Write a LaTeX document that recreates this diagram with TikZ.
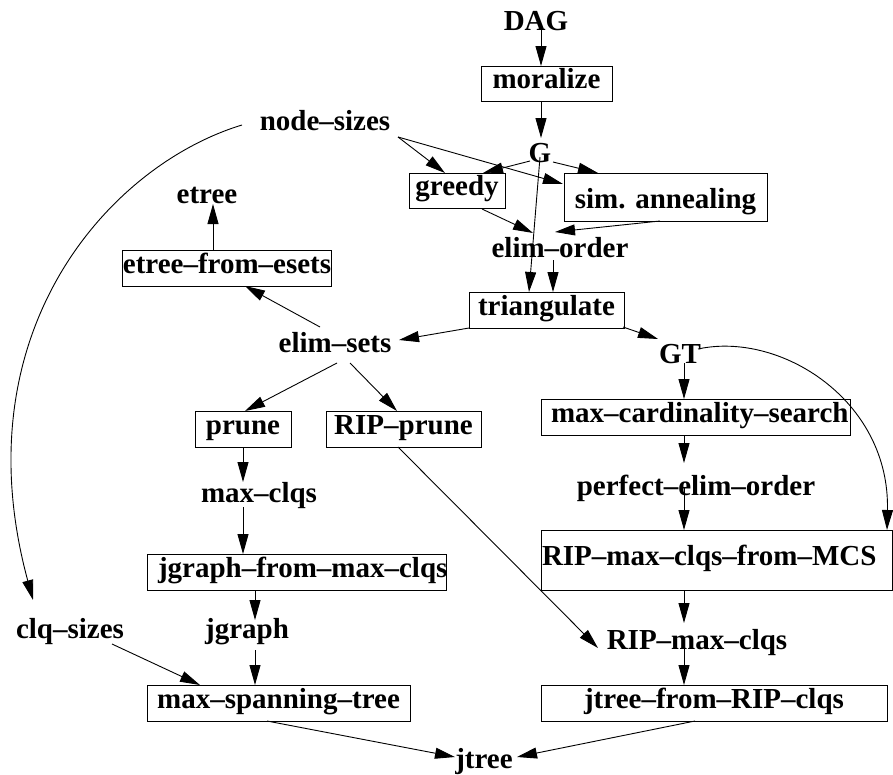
\documentclass[tikz,border=0pt]{standalone}
\usepackage{fontspec}
\setmainfont{Liberation Serif}
\usetikzlibrary{arrows.meta,calc}
\begin{document}
\begin{tikzpicture}[x=1pt,y=-1pt,
  font=\fontsize{29}{33}\selectfont\bfseries,
  lbl/.style={inner sep=0pt, text height=17pt, text depth=7pt},
  box/.style={draw, line width=1pt, inner sep=0pt, text height=17pt, text depth=7pt},
  arr/.style={line width=0.9pt, -{Triangle[length=20pt,width=11pt]}}]
\useasboundingbox (0,0) rectangle (893,774);
% labels
\node[lbl] (DAG) at (536,25) {DAG};
\node[lbl] (nodesizes) at (325,125) {node--sizes};
\node[lbl] (G) at (540,157) {G};
\node[lbl] (etree) at (207,198) {etree};
\node[lbl] (elimorder) at (560,252) {elim--order};
\node[lbl] (elimsets) at (335,347) {elim--sets};
\node[lbl] (GT) at (680,358) {GT};
\node[lbl] (maxclqs) at (259,497) {max--clqs};
\node[lbl] (peo) at (696,490) {perfect--elim--order};
\node[lbl] (clqsizes) at (70,633) {clq--sizes};
\node[lbl] (jgraph) at (247,633) {jgraph};
\node[lbl] (ripmaxclqs) at (697,644) {RIP--max--clqs};
\node[lbl] (jtree) at (484,763) {jtree};
% boxes
\node[box, minimum width=131pt, minimum height=35pt] (moralize) at (546.5,83.5) {moralize};
\node[box, minimum width=96pt, minimum height=35pt] (greedy) at (457,190.5) {greedy};
\node[box, minimum width=203pt, minimum height=48pt, text height=29pt] (simann) at (665.5,197) {sim. annealing};
\node[box, minimum width=208pt, minimum height=36pt] (etreefe) at (227,268) {etree--from--esets};
\node[box, minimum width=155pt, minimum height=36pt] (triangulate) at (546.5,310) {triangulate};
\node[box, minimum width=96pt, minimum height=36pt] (prune) at (243,429) {prune};
\node[box, minimum width=155pt, minimum height=36pt] (ripprune) at (403.5,429) {RIP--prune};
\node[box, minimum width=309pt, minimum height=36pt] (mcs) at (695.5,417) {\makebox[309pt][l]{\hspace*{10pt}max--cardinality--search}};
\node[box, minimum width=299pt, minimum height=36pt] (jgfmc) at (296.5,572) {\makebox[299pt][l]{\hspace*{11pt}jgraph--from--max--clqs}};
\node[box, minimum width=351pt, minimum height=60pt] (ripfmcs) at (716.5,560) {\makebox[351pt][l]{\hspace*{1pt}RIP--max--clqs--from--MCS}};
\node[box, minimum width=263pt, minimum height=36pt] (msp) at (278.5,703) {max--spanning--tree};
\node[box, minimum width=346pt, minimum height=36pt] (jtfrc) at (714,703) {jtree--from--RIP--clqs};
% connectors
\draw[arr] ($(DAG)+(5,5)$) -- ($(moralize)+(-5.5,-17.5)$);
\draw[arr] ($(moralize)+(-5.5,17.5)$) -- ($(G)+(1,-19)$);
\draw[arr] ($(nodesizes)+(73,12)$) -- ($(greedy)+(-12,-17.5)$);
\draw[arr] ($(nodesizes)+(73,12)$) -- ($(simann)+(-102.5,-13)$);
\draw[arr] ($(G)+(-10,4)$) -- ($(greedy)+(26,-17.5)$);
\draw[arr] ($(G)+(13,5)$) -- ($(simann)+(-67.5,-24)$);
\draw[arr] ($(G)+(0,0)$) -- ($(triangulate)+(-17.5,-18)$);
\draw[arr] ($(greedy)+(25,18.5)$) -- ($(elimorder)+(-27,-19)$);
\draw[arr] ($(simann)+(-5.5,24)$) -- ($(elimorder)+(-5,-20)$);
\draw[arr] ($(elimorder)+(-7,8)$) -- ($(triangulate)+(6.5,-18)$);
\draw[arr] ($(triangulate)+(-77.5,18)$) -- ($(elimsets)+(64,-7)$);
\draw[arr] ($(triangulate)+(76.5,17)$) -- ($(GT)+(-22,-19)$);
\draw[arr] ($(GT)+(4,5)$) -- ($(mcs)+(-11.5,-18)$);
\draw[arr] ($(GT)+(18,-9)$) .. controls ($(GT)+(100,-27)$) and ($(ripfmcs)+(173.5,-160)$) .. ($(ripfmcs)+(170.5,-30)$);
\draw[arr] ($(mcs)+(-11.5,18)$) -- ($(peo)+(-12,-27)$);
\draw[arr] ($(peo)+(-12,-3)$) -- ($(ripfmcs)+(-32.5,-30)$);
\draw[arr] ($(ripfmcs)+(-32.5,30)$) -- ($(ripmaxclqs)+(-13,-21)$);
\draw[arr] ($(ripmaxclqs)+(-13,-4)$) -- ($(jtfrc)+(-30,-18)$);
\draw[arr] ($(jtfrc)+(-19,18)$) -- ($(jtree)+(33,-6)$);
\draw[arr] ($(msp)+(-11.5,18)$) -- ($(jtree)+(-29,-6)$);
\draw[arr] ($(ripprune)+(-5.5,18)$) -- ($(ripmaxclqs)+(-99,4)$);
\draw[arr] ($(elimsets)+(2,16)$) -- ($(prune)+(2,-18)$);
\draw[arr] ($(elimsets)+(15,16)$) -- ($(ripprune)+(-6.5,-18)$);
\draw[arr] ($(elimsets)+(-15,-20)$) -- ($(etreefe)+(18,18)$);
\draw[arr] ($(etreefe)+(-14,-18)$) -- ($(etree)+(6,6)$);
\draw[arr] ($(prune)+(0,18)$) -- ($(maxclqs)+(-16,-15)$);
\draw[arr] ($(maxclqs)+(-16,10)$) -- ($(jgfmc)+(-53.5,-18)$);
\draw[arr] ($(jgfmc)+(-41.5,18)$) -- ($(jgraph)+(8,-13)$);
\draw[arr] ($(jgraph)+(8,17)$) -- ($(msp)+(-23.5,-18)$);
\draw[arr] ($(clqsizes)+(42,11)$) -- ($(msp)+(-78.5,-18)$);
\draw[arr] ($(nodesizes)+(-83,0)$) .. controls ($(nodesizes)+(-215,40)$) and ($(clqsizes)+(-110,-302)$) .. ($(clqsizes)+(-37,-33)$);
\end{tikzpicture}
\end{document}
